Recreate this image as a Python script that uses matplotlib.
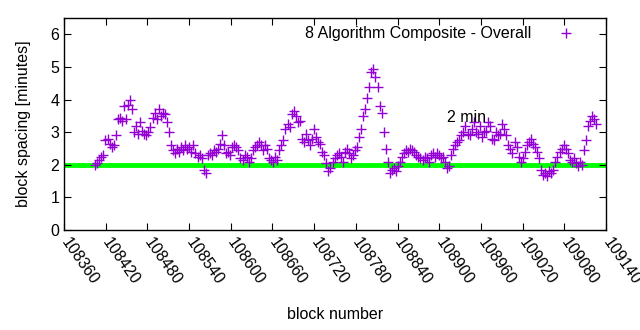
import numpy as np
import matplotlib
matplotlib.use('Agg')
import matplotlib.pyplot as plt

plt.rcParams['font.family'] = ['Liberation Sans', 'DejaVu Sans']

# block spacing in minutes (first block ~108405, last ~109126)
first_block = 108405
last_block = 109126
spacing = [
    2.0, 2.05, 2.15, 2.25, 2.3, 2.75, 2.8, 2.65, 2.55, 2.6,
    2.9, 3.4, 3.45, 3.35, 3.8, 3.4, 3.85, 4.0, 3.7, 3.0,
    3.2, 2.95, 3.3, 3.05, 2.95, 2.9, 3.0, 3.15, 3.45, 3.6,
    3.4, 3.7, 3.5, 3.6, 3.55, 3.3, 3.0, 2.6, 2.45, 2.35,
    2.5, 2.4, 2.55, 2.45, 2.6, 2.5, 2.55, 2.4, 2.6, 2.35,
    2.25, 2.3, 2.2, 1.85, 1.75, 2.3, 2.35, 2.3, 2.45, 2.4,
    2.5, 2.65, 2.9, 2.6, 2.35, 2.4, 2.3, 2.55, 2.6, 2.55,
    2.45, 2.2, 2.15, 2.3, 2.25, 2.1, 2.2, 2.45, 2.55, 2.6,
    2.7, 2.6, 2.45, 2.6, 2.5, 2.2, 2.15, 2.1, 2.25, 2.15,
    2.45, 2.6, 2.75, 3.1, 3.25, 3.15, 3.55, 3.65, 3.5, 3.3,
    3.35, 2.8, 2.7, 2.95, 2.75, 2.6, 2.8, 3.1, 2.85, 2.7,
    2.65, 2.4, 2.3, 2.05, 1.8, 1.9, 2.1, 2.2, 2.3, 2.35,
    2.25, 2.1, 2.4, 2.5, 2.35, 2.2, 2.3, 2.45, 2.55, 2.85,
    3.1, 3.5, 3.7, 4.05, 4.4, 4.85, 4.95, 4.7, 4.4, 3.8,
    3.6, 3.0, 2.5, 2.1, 1.75, 1.85, 1.9, 1.8, 1.95, 2.1,
    2.25, 2.35, 2.45, 2.4, 2.5, 2.45, 2.4, 2.3, 2.25, 2.2,
    2.15, 2.25, 2.2, 2.1, 2.3, 2.35, 2.25, 2.35, 2.3, 2.2,
    2.25, 2.1, 1.9, 1.95, 2.3, 2.5, 2.6, 2.7, 2.75, 2.9,
    3.0, 3.2, 2.95, 2.9, 3.1, 3.3, 3.0, 2.95, 3.2, 2.85,
    3.0, 3.05, 3.3, 3.2, 2.8, 2.75, 3.0, 2.9, 2.95, 3.25,
    3.1, 2.9, 2.6, 2.5, 2.35, 2.7, 2.55, 2.25, 2.1, 2.2,
    2.4, 2.6, 2.7, 2.8, 2.65, 2.55, 2.4, 2.2, 1.85, 1.7,
    1.75, 1.65, 1.8, 1.75, 1.85, 2.1, 2.25, 2.4, 2.5, 2.6,
    2.5, 2.35, 2.15, 2.1, 2.2, 2.05, 1.95, 2.1, 2.0, 2.45,
    2.75, 3.2, 3.35, 3.5, 3.4, 3.25,
]
target = 2
x_ticks = list(range(108360, 109141, 60))

blocks = np.linspace(first_block, last_block, len(spacing))

fig = plt.figure(figsize=(6.4, 3.3), dpi=100)
ax = fig.add_axes([0.1, 0.303, 0.847, 0.642])

ax.axhline(target, color='#00ff00', lw=3.5, zorder=1)
ax.plot(blocks, spacing, linestyle='none', marker='+', markersize=6.5,
        markeredgewidth=1.0, color='#9400d3', label='8 Algorithm Composite - Overall',
        zorder=2)
ax.text(108911, 3.46, '2 min', fontsize=11.5, ha='left', va='center')

ax.set_xlim(108360, 109140)
ax.set_ylim(0, 6.5)
ax.set_xticks(x_ticks)
ax.set_xticklabels([str(t) for t in x_ticks], rotation=-55, ha='left', va='center',
                   rotation_mode='anchor', fontsize=11.5)
ax.set_yticks(range(0, 7))
ax.tick_params(direction='in', top=True, right=True, length=5, labelsize=11.5)
ax.tick_params(axis='x', pad=7)
ax.set_xlabel('block number', fontsize=11.5, labelpad=14)
ax.set_ylabel('block spacing [minutes]', fontsize=11.5, labelpad=14)
for s in ax.spines.values():
    s.set_linewidth(1)

ax.legend(loc='upper right', bbox_to_anchor=(0.955, 1.0), markerfirst=False,
          frameon=False, fontsize=11.5, handlelength=1.0, borderaxespad=0.1,
          handletextpad=1.63)

fig.savefig('out.png', dpi=100)
